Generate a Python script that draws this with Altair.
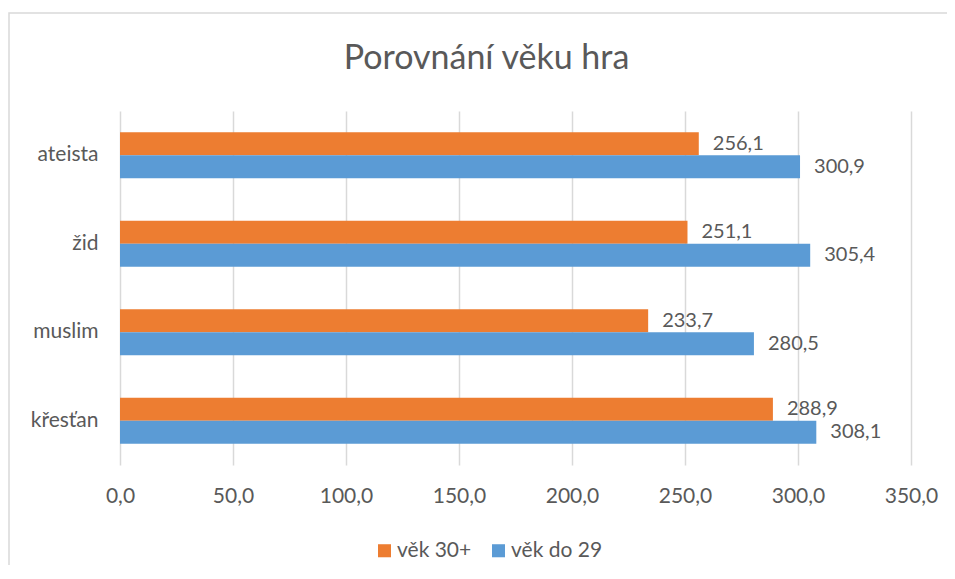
import altair as alt
import pandas as pd

categories = ["ateista", "žid", "muslim", "křesťan"]
series = ["věk 30+", "věk do 29"]
values_30plus = [256.1, 251.1, 233.7, 288.9]
values_do29 = [300.9, 305.4, 280.5, 308.1]
colors = ["#ED7D31", "#5B9BD5"]

rows = []
for c, a, b in zip(categories, values_30plus, values_do29):
    rows.append({"kat": c, "serie": series[0], "hodnota": a})
    rows.append({"kat": c, "serie": series[1], "hodnota": b})
df = pd.DataFrame(rows)

FONT = "Lato"
TXT = "#595959"
FRAME = "#D9D9D9"

y_enc = alt.Y("kat:N", sort=categories, title=None,
              scale=alt.Scale(paddingInner=0.48, paddingOuter=0.24),
              axis=alt.Axis(domain=False, ticks=False, labelPadding=22,
                            labelFontSize=21, labelColor=TXT, labelFont=FONT))
yoff = alt.YOffset("serie:N", sort=series, scale=alt.Scale(paddingInner=0, paddingOuter=0))
x_enc = alt.X("hodnota:Q", title=None,
              scale=alt.Scale(domain=[0, 350], nice=False),
              axis=alt.Axis(values=[0, 50, 100, 150, 200, 250, 300, 350],
                            labelExpr="replace(format(datum.value, '.1f'), '.', ',')",
                            domain=False, ticks=False, labelPadding=20, labelFlush=False,
                            labelFontSize=21, labelColor=TXT, labelFont=FONT,
                            gridColor=FRAME, gridWidth=1.5))

base = alt.Chart(df)

bars = base.mark_bar().encode(
    y=y_enc, yOffset=yoff, x=x_enc,
    color=alt.Color("serie:N", sort=series, title=None,
                    scale=alt.Scale(domain=series, range=colors),
                    legend=alt.Legend(orient="none", legendX=254, legendY=429,
                                      direction="horizontal", symbolType="square",
                                      symbolSize=170, symbolStrokeWidth=0,
                                      labelFontSize=21, labelColor=TXT, labelFont=FONT,
                                      labelOffset=2, columnPadding=16, padding=0)),
)

labels = base.transform_calculate(
    lab="replace(format(datum.hodnota, '.1f'), '.', ',')"
).mark_text(align="left", baseline="middle", dx=14, fontSize=20, color=TXT, font=FONT).encode(
    y=alt.Y("kat:N", sort=categories), yOffset=alt.YOffset("serie:N", sort=series),
    x="hodnota:Q", text="lab:N",
)

frame_src = alt.Chart(pd.DataFrame({"f": [0]}))
frame = frame_src.mark_rect(fill=None, stroke=FRAME, strokeWidth=1.5).encode(
    x=alt.value(-111), x2=alt.value(860), y=alt.value(-98), y2=alt.value(480))

chart = alt.layer(frame, bars, labels).properties(
    width=791, height=354,
    title=alt.TitleParams("Porovnání věku hra", fontSize=34, font=FONT, color=TXT,
                          fontWeight="normal", anchor="middle", offset=-64, dx=-29),
    autosize=alt.AutoSizeParams(type="none"),
    padding={"left": 112, "top": 103, "right": 36, "bottom": 100},
).configure(background="white").configure_view(stroke=None)

chart.save("out.html", embed_options={"renderer": "svg", "actions": False})
